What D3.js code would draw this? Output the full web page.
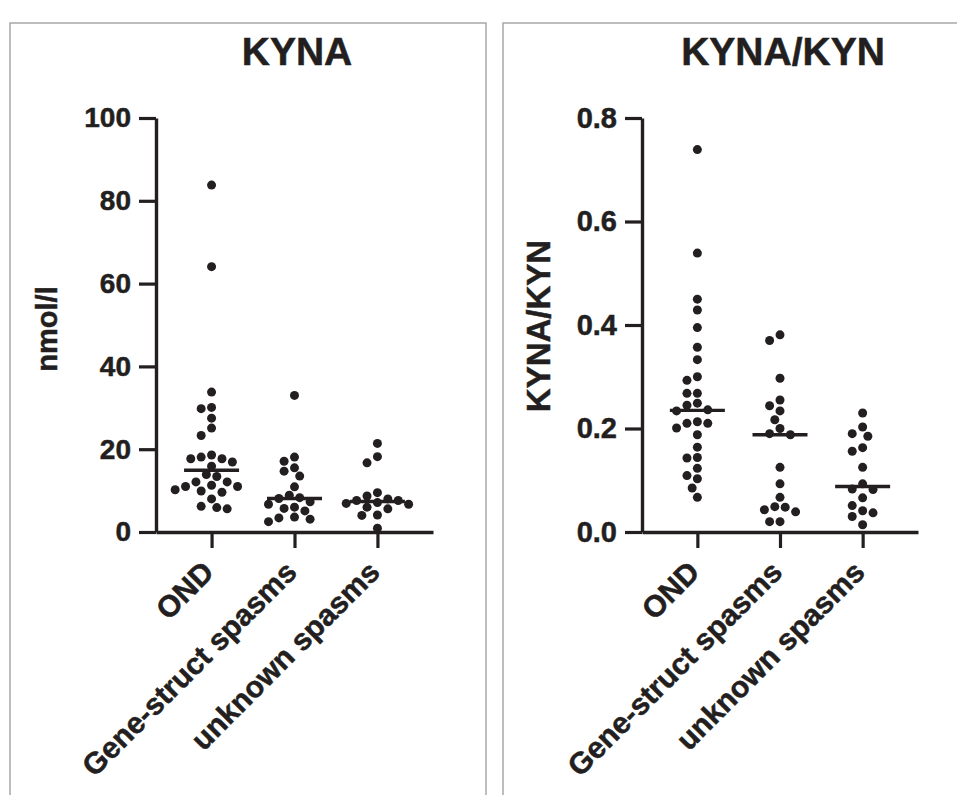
<!DOCTYPE html>
<html>
<head>
<meta charset="utf-8">
<script src="https://cdn.jsdelivr.net/npm/d3@7"></script>
<style>
  body { margin: 0; background: #fff; }
  text { font-family: "Liberation Sans", Arial, sans-serif; font-weight: bold; fill: #231f20;
         stroke: #231f20; stroke-width: 0.5px; }
</style>
</head>
<body>
<svg id="canvas" width="957" height="795"></svg>
<script>
// groups on the x axis
const groups = ['OND', 'Gene-struct spasms', 'unknown spasms']

// KYNA, nmol/l
const kynaOND = [83.8, 64.1, 33.8, 30.1, 29.8, 27.5, 25.1, 23.3, 18.6, 18.1, 17.7, 17.7, 16.9, 15.9,
                 13.9, 13.4, 12.1, 12.1, 11.3, 11.0, 11.0, 10.2, 9.9, 9.6, 8.0, 6.2, 5.9, 5.6]
const kynaGene = [33.0, 18.1, 17.1, 15.5, 14.7, 13.5, 10.9, 8.9, 8.3, 8.1, 7.3, 6.7, 6.0, 5.7,
                  5.1, 3.6, 3.4, 3.1, 2.5]
const kynaUnknown = [21.4, 18.2, 16.7, 9.5, 8.7, 8.0, 7.6, 7.6, 7.1, 6.9, 6.7, 6.0, 5.6, 4.1, 4.0, 0.9]
const kynaTicks = [0, 20, 40, 60, 80, 100]

// KYNA/KYN ratio
const ratioOND = [0.739, 0.539, 0.450, 0.429, 0.395, 0.357, 0.333, 0.300, 0.293, 0.268, 0.268, 0.249,
                  0.245, 0.236, 0.234, 0.213, 0.210, 0.210, 0.201, 0.188, 0.164, 0.144, 0.143, 0.123,
                  0.109, 0.103, 0.085, 0.067]
const ratioGene = [0.381, 0.370, 0.297, 0.255, 0.244, 0.234, 0.217, 0.200, 0.190, 0.188, 0.125, 0.093,
                   0.067, 0.049, 0.048, 0.043, 0.039, 0.020, 0.020]
const ratioUnknown = [0.230, 0.203, 0.190, 0.185, 0.163, 0.156, 0.125, 0.093, 0.083, 0.082, 0.066,
                      0.051, 0.041, 0.037, 0.030, 0.014]
const ratioTicks = [0, 0.2, 0.4, 0.6, 0.8]

const ink = '#231f20'
const dotR = 4.5
const gap = 10.4

let canvas = d3.select('#canvas')

canvas.append('rect').attr('width', 957).attr('height', 795).attr('fill', '#fff')

// panel frames
canvas.append('rect').attr('x', 10).attr('y', 23).attr('width', 476).attr('height', 800)
      .attr('fill', 'none').attr('stroke', '#a8a8a8').attr('stroke-width', 1.5)
canvas.append('rect').attr('x', 503).attr('y', 23).attr('width', 470).attr('height', 800)
      .attr('fill', 'none').attr('stroke', '#a8a8a8').attr('stroke-width', 1.5)

// simple greedy beeswarm: offsets in half-gap steps, nearest to centre first
let swarm = (values, yScale) => {
    let pts = values.map((v) => ({ v: v, y: yScale(v), dx: 0 }))
    let sorted = pts.slice().sort((a, b) => a.y - b.y)
    let placed = []
    sorted.forEach((p) => {
        for (let k = 0; k < 40; k++) {
            let step = Math.ceil(k / 2) * (k % 2 === 1 ? -1 : 1)
            let dx = step * gap / 2
            let ok = placed.every((q) => {
                let ddx = q.dx - dx, ddy = q.y - p.y
                return ddx * ddx + ddy * ddy >= gap * gap * 0.85
            })
            if (ok) { p.dx = dx; break }
        }
        placed.push(p)
    })
    return pts
}

let drawPanel = (opt) => {
    let g = canvas.append('g')

    let y = d3.scaleLinear().domain(opt.domain).range([532, 118])
    let x = d3.scalePoint().domain(groups).range([opt.left, opt.right]).padding(0.67)

    // y axis
    let yAxis = g.append('g')
                 .attr('transform', 'translate(' + opt.left + ',0)')
                 .call(d3.axisLeft(y).tickValues(opt.ticks).tickFormat(opt.format)
                         .tickSize(17).tickSizeOuter(0).tickPadding(8))
    yAxis.select('.domain').attr('stroke', ink).attr('stroke-width', 3.4)
    yAxis.selectAll('.tick line').attr('stroke', ink).attr('stroke-width', 3.2)
    yAxis.selectAll('.tick text').attr('font-size', opt.tickFont).attr('fill', ink)
         .attr('font-family', '"Liberation Sans", Arial, sans-serif').attr('font-weight', 'bold')

    // x axis
    let xAxis = g.append('g')
                 .attr('transform', 'translate(0,532)')
                 .call(d3.axisBottom(x).tickSize(16).tickSizeOuter(0))
    xAxis.select('.domain').attr('stroke', ink).attr('stroke-width', 3.4)
    xAxis.selectAll('.tick line').attr('stroke', ink).attr('stroke-width', 3.2)
    xAxis.selectAll('.tick text').remove()

    g.selectAll('.xlabel')
     .data(groups)
     .enter()
     .append('text')
     .attr('class', 'xlabel')
     .attr('text-anchor', 'end')
     .attr('font-size', 30)
     .attr('transform', (d) => 'translate(' + (x(d) + 4) + ',574) rotate(-45)')
     .text((d) => d)

    // title and y axis title
    g.append('text')
     .attr('x', opt.titleX).attr('y', 65)
     .attr('text-anchor', 'middle').attr('font-size', 39)
     .text(opt.title)

    g.append('text')
     .attr('text-anchor', 'middle').attr('font-size', opt.yTitleFont)
     .attr('transform', 'translate(' + opt.yTitleX + ',' + opt.yTitleY + ') rotate(-90)')
     .text(opt.yTitle)

    // dots and medians
    opt.series.forEach((values, i) => {
        let cx = x(groups[i])
        let pts = swarm(values, y)
        g.selectAll(null)
         .data(pts)
         .enter()
         .append('circle')
         .attr('cx', (p) => cx + p.dx)
         .attr('cy', (p) => p.y)
         .attr('r', dotR)
         .attr('fill', ink)

        let med = d3.median(values)
        g.append('line')
         .attr('x1', cx - 27.5).attr('x2', cx + 27.5)
         .attr('y1', y(med)).attr('y2', y(med))
         .attr('stroke', ink).attr('stroke-width', 3.4)
    })
}

drawPanel({
    left: 156, right: 433,
    domain: [0, 100], ticks: kynaTicks, format: d3.format('d'),
    tickFont: 28,
    series: [kynaOND, kynaGene, kynaUnknown],
    title: 'KYNA', titleX: 297,
    yTitle: 'nmol/l', yTitleX: 57, yTitleY: 329, yTitleFont: 29
})

drawPanel({
    left: 642, right: 918,
    domain: [0, 0.8], ticks: ratioTicks, format: d3.format('.1f'),
    tickFont: 29,
    series: [ratioOND, ratioGene, ratioUnknown],
    title: 'KYNA/KYN', titleX: 783,
    yTitle: 'KYNA/KYN', yTitleX: 550, yTitleY: 326, yTitleFont: 33
})
</script>
</body>
</html>
